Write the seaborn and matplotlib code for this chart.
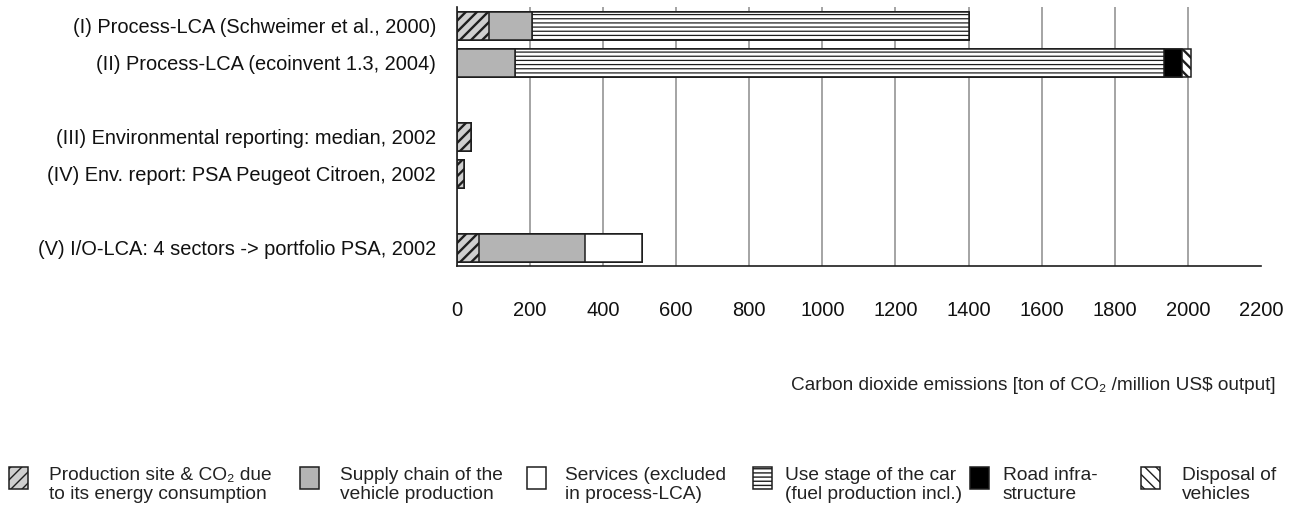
import matplotlib
matplotlib.use("Agg")
import matplotlib.pyplot as plt
from matplotlib.patches import Rectangle
import numpy as np
import pandas as pd
import seaborn as sns

# rows of the chart, blanks are the gaps between groups
labels = ["(I) Process-LCA (Schweimer et al., 2000)",
          "(II) Process-LCA (ecoinvent 1.3, 2004)",
          "",
          "(III) Environmental reporting: median, 2002",
          "(IV) Env. report: PSA Peugeot Citroen, 2002",
          " ",
          "(V) I/O-LCA: 4 sectors -> portfolio PSA, 2002"]
studies = [labels[0], labels[1], labels[3], labels[4], labels[6]]

# ton CO2 / million US$ output, per segment
production = [88, 0, 38, 20, 61]
supply = [117, 160, 0, 0, 290]
services = [0, 0, 0, 0, 157]
use_stage = [1195, 1775, 0, 0, 0]
road = [0, 50, 0, 0, 0]
disposal = [0, 23, 0, 0, 0]

legend_labels = ["Production site & CO\u2082 due\nto its energy consumption",
                 "Supply chain of the\nvehicle production",
                 "Services (excluded\nin process-LCA)",
                 "Use stage of the car\n(fuel production incl.)",
                 "Road infra-\nstructure",
                 "Disposal of\nvehicles"]

# facecolor, hatch, hatch colour
styles = [("#cfcfcf", "///", "#262626"),
          ("#b4b4b4", "", "#000000"),
          ("#ffffff", "", "#000000"),
          ("#ffffff", "----", "#8a8a8a"),
          ("#000000", "", "#000000"),
          ("#ffffff", "\\\\\\", "#000000")]

segments = [production, supply, services, use_stage, road, disposal]
cum = np.cumsum(np.array(segments), axis=0)
df = pd.DataFrame({"study": studies})
for i in range(len(segments)):
    df[f"c{i}"] = cum[i]

sns.set_style("white")
plt.rcParams["font.family"] = ["Liberation Sans", "DejaVu Sans"]

fig = plt.figure(figsize=(12.92, 5.12), dpi=100)
ax = fig.add_axes([0.3535, 0.4795, 0.6225, 0.5059])


def style_new(patches, hatch, hcol):
    for p in patches:
        if hasattr(p, "set_hatchcolor"):
            p.set_hatchcolor(hcol)
        if hasattr(p, "set_hatch_linewidth"):
            p.set_hatch_linewidth(1.7 if hatch in ("///", "\\\\\\") else 0.9)


# stack by overdrawing cumulative bars, longest first
for i in reversed(range(len(segments))):
    face, hatch, hcol = styles[i]
    n0 = len(ax.patches)
    sns.barplot(data=df, x=f"c{i}", y="study", order=labels, orient="h",
                width=0.75, color=face, saturation=1, edgecolor="#1e1e1e",
                linewidth=1.1, hatch=hatch, errorbar=None, ax=ax)
    style_new(ax.patches[n0:], hatch, hcol)

ax.set_xlim(0, 2200)
ax.set_ylim(len(labels) - 0.5, -0.5)
ax.set_xticks(np.arange(0, 2201, 200))
ax.set_xlabel("")
ax.set_ylabel("")
ax.xaxis.grid(True, color="#8c8c8c", linewidth=1.1)
ax.set_axisbelow(True)
ax.get_xgridlines()[-1].set_visible(False)

ax.set_yticks(np.arange(len(labels)))
ax.set_yticklabels(labels, fontsize=14.4, color="#111111")
ax.set_yticks(np.arange(len(labels) + 1) - 0.5, minor=True)
ax.tick_params(axis="y", which="major", length=0, pad=15)
ax.tick_params(axis="y", which="minor", length=6, width=1.1, color="#1e1e1e", direction="out")
ax.tick_params(axis="x", length=6, width=1.1, color="#1e1e1e", direction="out", pad=19,
               labelsize=14.5, labelcolor="#111111")

for s in ["top", "right"]:
    ax.spines[s].set_visible(False)
for s in ["left", "bottom"]:
    ax.spines[s].set_color("#1e1e1e")
    ax.spines[s].set_linewidth(1.2)

fig.text(0.9876, 0.248, "Carbon dioxide emissions [ton of CO\u2082 /million US$ output]",
         ha="right", va="center", fontsize=13.7, color="#222222")

# legend row at the bottom
icon_x = [9, 300, 527, 753, 970, 1141]
text_x = [49, 340, 565, 785, 1003, 1182]
W, H = 1292, 512
for i, lab in enumerate(legend_labels):
    face, hatch, hcol = styles[i]
    r = Rectangle((icon_x[i] / W, 1 - 489 / H), 19 / W, 22 / H, transform=fig.transFigure,
                  facecolor=face, edgecolor="#1e1e1e", linewidth=1.1, hatch=hatch)
    if hasattr(r, "set_hatchcolor"):
        r.set_hatchcolor(hcol)
    fig.patches.append(r)
    fig.text(text_x[i] / W, 1 - 485 / H, lab, ha="left", va="center", fontsize=13.8,
             linespacing=1.15, color="#222222")

fig.savefig("out.png", dpi=100)
